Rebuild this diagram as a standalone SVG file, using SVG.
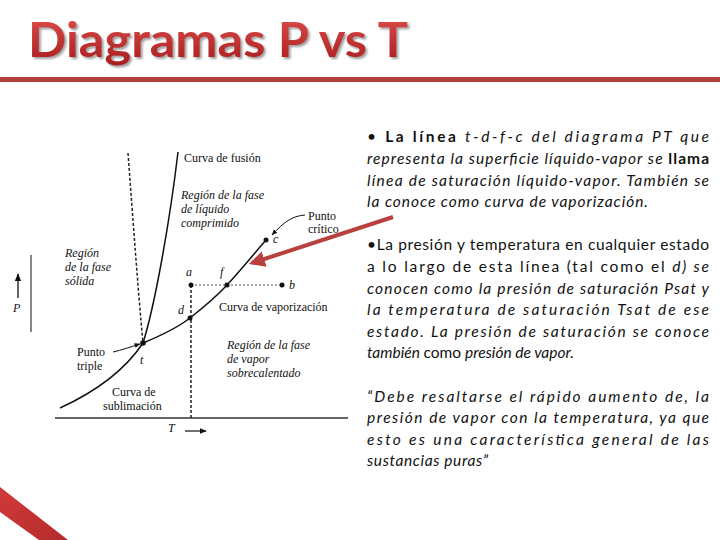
<svg xmlns="http://www.w3.org/2000/svg" width="720" height="540" viewBox="0 0 720 540">
<defs>
<linearGradient id="tg" x1="0" y1="0" x2="0" y2="1">
<stop offset="0" stop-color="#e2504c"/>
<stop offset="1" stop-color="#a61c1e"/>
</linearGradient>
<linearGradient id="cg" x1="0" y1="0" x2="1" y2="1">
<stop offset="0" stop-color="#d03a3a"/>
<stop offset="1" stop-color="#b52c2c"/>
</linearGradient>
<filter id="sh" x="-5%" y="-20%" width="110%" height="150%">
<feDropShadow dx="2" dy="2" stdDeviation="1" flood-color="#777" flood-opacity="0.7"/>
</filter>
<marker id="ah" viewBox="0 0 10 10" refX="9" refY="5" markerWidth="6" markerHeight="6" orient="auto">
<path d="M0,1 L10,5 L0,9 z" fill="#111"/>
</marker>
<marker id="rah" viewBox="0 0 10 10" refX="8" refY="5" markerWidth="4" markerHeight="4" orient="auto">
<path d="M0,0 L10,5 L0,10 z" fill="#b8403e"/>
</marker>
<style>
.lbl{font-family:"Liberation Serif","Times New Roman",serif;font-size:12px;fill:#111}
.it{font-style:italic}
.body{font-family:Lato,"Open Sans","Liberation Sans",sans-serif;font-size:15.5px;fill:#111}
.i{font-style:italic}
.b{font-weight:bold}
.crv{fill:none;stroke:#111;stroke-width:1.5}
.dsh{fill:none;stroke:#222;stroke-width:1.5;stroke-dasharray:3,2}
.dot{fill:#111}
</style>
</defs>
<rect width="720" height="540" fill="#fff"/>

<g id="title">
<text x="28" y="57" font-family="Lato,'Open Sans','Liberation Sans',sans-serif" font-weight="bold" font-size="48" fill="url(#tg)" filter="url(#sh)" textLength="380" lengthAdjust="spacingAndGlyphs">Diagramas P vs T</text>
<rect x="0" y="77" width="720" height="5" fill="#b3403e"/>
</g>

<g id="corner">
<polygon points="0,487 68,540 39,540 0,512" fill="url(#cg)"/>
</g>

<g id="axes">
<line x1="31" y1="255" x2="31" y2="332" stroke="#444" stroke-width="1.3"/>
<line x1="55" y1="418" x2="348" y2="418" stroke="#333" stroke-width="1.5"/>
<line x1="18" y1="298" x2="18" y2="274" stroke="#111" stroke-width="1.3" marker-end="url(#ah)"/>
<text class="lbl it" x="13" y="312">P</text>
<line x1="185" y1="431" x2="206" y2="431" stroke="#111" stroke-width="1.2" marker-end="url(#ah)"/>
<text class="lbl it" x="168" y="432">T</text>
</g>

<g id="connectors">
<path class="dsh" d="M128,153 C133,220 138,290 143,343"/>
<path class="crv" d="M143,343 C155,305 170,220 178,152"/>
<path class="crv" d="M60,408 C95,392 125,370 143,343"/>
<path class="crv" d="M143,343 C160,336 177,328 190,318 C204,307 216,297 227,285 C240,271 253,255 266,240"/>
<path class="dsh" d="M191,285 L191,418"/>
<line x1="191" y1="285" x2="282" y2="285" stroke="#555" stroke-width="1" stroke-dasharray="2,2"/>
<path d="M305,215 C292,216 284,222 272,235" fill="none" stroke="#111" stroke-width="1" marker-end="url(#ah)"/>
<path d="M113,352 C122,350 130,347 140,344" fill="none" stroke="#111" stroke-width="1" marker-end="url(#ah)"/>
<line x1="393" y1="217" x2="252" y2="263" stroke="#b8403e" stroke-width="4" marker-end="url(#rah)"/>
</g>

<g id="points">
<circle class="dot" cx="143" cy="343" r="2.8"/>
<circle class="dot" cx="191" cy="285" r="2.5"/>
<circle class="dot" cx="227" cy="285" r="2.5"/>
<circle class="dot" cx="282" cy="285" r="2.5"/>
<circle class="dot" cx="266" cy="240" r="2.5"/>
<circle class="dot" cx="190" cy="318" r="2.5"/>
<text class="lbl it" x="186" y="276">a</text>
<text class="lbl it" x="220" y="276">f</text>
<text class="lbl it" x="289" y="289">b</text>
<text class="lbl it" x="273" y="243">c</text>
<text class="lbl it" x="178" y="314">d</text>
<text class="lbl it" x="140" y="364">t</text>
</g>

<g id="labels">
<text class="lbl" x="184" y="162">Curva de fusión</text>
<text class="lbl it" x="181" y="199">Región de la fase</text>
<text class="lbl it" x="181" y="213">de líquido</text>
<text class="lbl it" x="181" y="227">comprimido</text>
<text class="lbl" x="308" y="220">Punto</text>
<text class="lbl" x="308" y="233">crítico</text>
<text class="lbl it" x="65" y="257" font-size="11">Región</text>
<text class="lbl it" x="65" y="271" font-size="11">de la fase</text>
<text class="lbl it" x="65" y="285" font-size="11">sólida</text>
<text class="lbl" x="219" y="311">Curva de vaporización</text>
<text class="lbl it" x="227" y="349">Región de la fase</text>
<text class="lbl it" x="227" y="363">de vapor</text>
<text class="lbl it" x="227" y="377">sobrecalentado</text>
<text class="lbl" x="77" y="356">Punto</text>
<text class="lbl" x="77" y="370">triple</text>
<text class="lbl" x="112" y="396">Curva de</text>
<text class="lbl" x="103" y="410">sublimación</text>
</g>

<g id="text1">
<text class="body" x="367" y="142" textLength="342" lengthAdjust="spacing">•  <tspan class="b">La línea</tspan> <tspan class="i">t-d-f-c del diagrama PT que</tspan></text>
<text class="body" x="367" y="164" textLength="342" lengthAdjust="spacing"><tspan class="i">representa la superficie líquido-vapor se </tspan><tspan class="b">llama</tspan></text>
<text class="body i" x="367" y="186" textLength="342" lengthAdjust="spacing">línea de saturación líquido-vapor. También se</text>
<text class="body i" x="367" y="207" textLength="281" lengthAdjust="spacing">la conoce como curva de vaporización.</text>
</g>

<g id="text2">
<text class="body" x="367" y="250" textLength="342" lengthAdjust="spacing">•La presión y temperatura en cualquier estado</text>
<text class="body" x="367" y="272" textLength="342" lengthAdjust="spacing">a lo largo de esta línea (tal como el <tspan class="i">d) se</tspan></text>
<text class="body i" x="367" y="294" textLength="342" lengthAdjust="spacing">conocen como la presión de saturación Psat y</text>
<text class="body i" x="367" y="315" textLength="342" lengthAdjust="spacing">la temperatura de saturación Tsat de ese</text>
<text class="body i" x="367" y="337" textLength="342" lengthAdjust="spacing">estado. La presión de saturación se conoce</text>
<text class="body" x="367" y="358"><tspan class="i">también </tspan>como <tspan class="i">presión de vapor.</tspan></text>
</g>

<g id="text3">
<text class="body i" x="367" y="402" textLength="342" lengthAdjust="spacing">“Debe resaltarse el rápido aumento de, la</text>
<text class="body i" x="367" y="423" textLength="342" lengthAdjust="spacing">presión de vapor con la temperatura, ya que</text>
<text class="body i" x="367" y="445" textLength="342" lengthAdjust="spacing">esto es una característica general de las</text>
<text class="body i" x="367" y="466" textLength="121" lengthAdjust="spacing">sustancias puras”</text>
</g>
</svg>
